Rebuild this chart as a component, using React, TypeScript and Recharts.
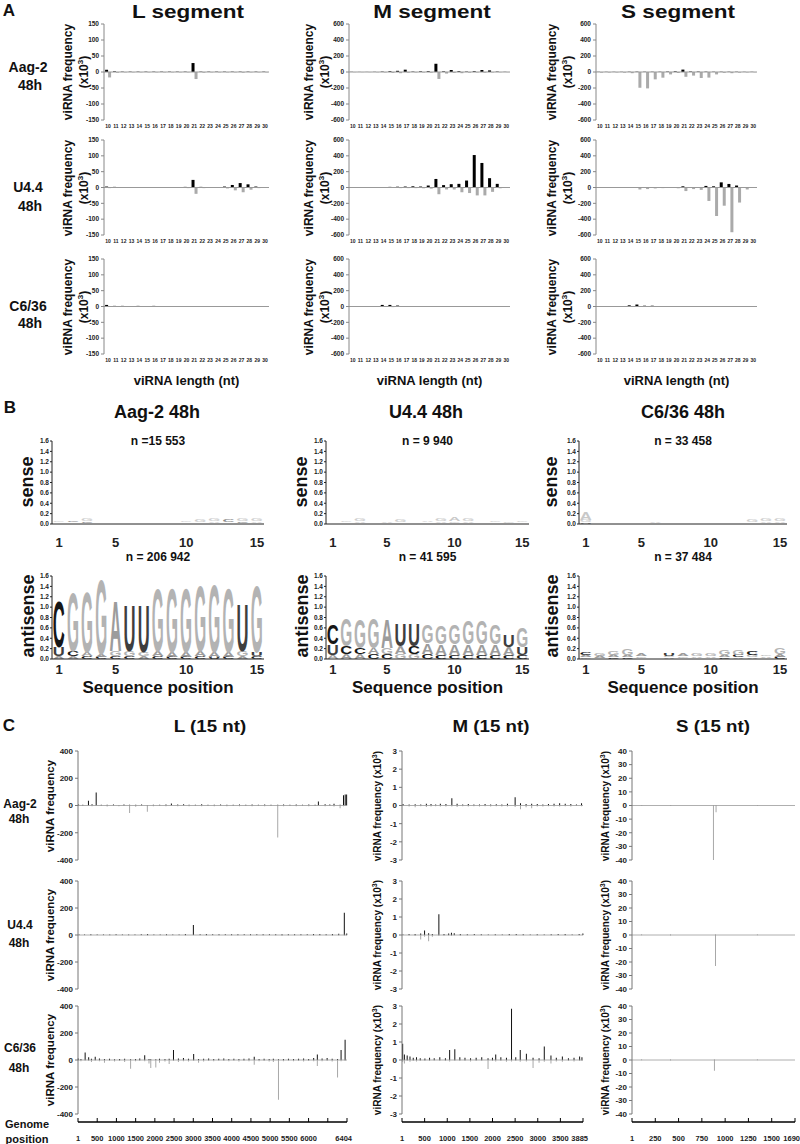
import { Bar, BarChart, Line, LineChart, ReferenceLine, XAxis, YAxis } from "recharts";

const FONT = "'Liberation Sans', Arial, Helvetica, sans-serif";

// ---------- A: viRNA length distributions (x10^3) ----------
const LENGTHS = ["10","11","12","13","14","15","16","17","18","19","20","21","22","23","24","25","26","27","28","29","30"];
const TICKS_L = [-150, -100, -50, 0, 50, 100, 150];
const TICKS_MS = [-600, -400, -200, 0, 200, 400, 600];

const L_AAG2_S = [7, 2, 1, 1, 1, 1, 1, 1, 1, 1, 1, 28, 1, 1, 1, 1, 1, 1, 1, 1, 1];
const L_AAG2_A = [-17, -2, -1, -1, -1, -1, -1, -1, -1, -1, -1, -22, -2, -1, -1, -1, -1, -2, -1, -1, -1];
const L_U44_S = [3, 2, 1, 1, 1, 1, 1, 1, 1, 1, 2, 24, 2, 1, 1, 3, 8, 14, 10, 3, 1];
const L_U44_A = [-2, -1, -1, -1, -1, -1, -1, -1, -1, -1, -2, -20, -2, -1, -1, -3, -9, -15, -7, -2, -1];
const L_C636_S = [5, 2, 2, 1, 2, 1, 2, 1, 1, 1, 1, 1, 1, 1, 1, 1, 1, 1, 1, 1, 1];
const L_C636_A = [-1, -1, -1, -1, -1, -1, -1, -1, -1, -1, -1, -1, -1, -1, -1, -1, -1, -1, -1, -1, -1];

const M_AAG2_S = [2, 1, 1, 2, 5, 10, 15, 29, 5, 8, 10, 103, 8, 25, 10, 5, 10, 25, 20, 5, 2];
const M_AAG2_A = [-2, -2, -2, -3, -5, -10, -15, -8, -5, -5, -8, -87, -20, -10, -15, -8, -5, -8, -5, -3, -2];
const M_U44_S = [2, 2, 2, 3, 5, 8, 10, 12, 15, 12, 25, 108, 30, 42, 46, 88, 410, 310, 118, 46, 5];
const M_U44_A = [-2, -2, -2, -3, -4, -6, -8, -8, -8, -10, -15, -85, -25, -25, -60, -70, -100, -100, -55, -10, -3];
const M_C636_S = [2, 2, 3, 5, 20, 20, 12, 5, 3, 2, 2, 3, 2, 2, 2, 2, 2, 2, 2, 2, 2];
const M_C636_A = [-1, -1, -2, -2, -5, -8, -5, -3, -2, -1, -1, -2, -1, -1, -1, -1, -1, -1, -1, -1, -1];

const S_AAG2_S = [2, 2, 2, 2, 3, 4, 3, 3, 3, 5, 8, 30, 6, 5, 4, 3, 3, 3, 3, 2, 2];
const S_AAG2_A = [-8, -6, -5, -8, -15, -197, -205, -92, -71, -30, -12, -60, -45, -75, -70, -30, -10, -15, -8, -5, -3];
const S_U44_S = [1, 1, 1, 1, 2, 3, 3, 3, 3, 4, 6, 15, 6, 6, 20, 15, 65, 45, 25, 6, 2];
const S_U44_A = [-2, -2, -2, -3, -5, -25, -20, -12, -8, -6, -10, -45, -20, -30, -170, -360, -230, -565, -190, -25, -5];
const S_C636_S = [2, 2, 3, 5, 15, 25, 10, 10, 5, 3, 2, 2, 2, 2, 2, 2, 2, 2, 2, 2, 2];
const S_C636_A = [-1, -1, -2, -2, -4, -6, -4, -4, -3, -2, -1, -1, -1, -1, -1, -1, -1, -1, -1, -1, -1];

// ---------- B: sequence logos ----------
const LOGO_POSITIONS = ["1","2","3","4","5","6","7","8","9","10","11","12","13","14","15"];
const LOGO_SHOWN = ["1", "5", "10", "15"];
const LOGO_TICKS = [0, 0.2, 0.4, 0.6, 0.8, 1.0, 1.2, 1.4, 1.6];

type Stack = [string, number][];

const AAG2_SENSE: Stack[] = [
  [["A", 0.01], ["C", 0.02], ["G", 0.03]], [["U", 0.01], ["A", 0.02], ["C", 0.03]], [["A", 0.02], ["C", 0.03], ["G", 0.06]],
  [["U", 0.01], ["C", 0.01], ["A", 0.02]], [["G", 0.01], ["A", 0.01]], [["A", 0.01]], [["C", 0.006]], [], [["G", 0.008]],
  [["U", 0.01], ["A", 0.02], ["G", 0.03]], [["C", 0.02], ["A", 0.02], ["G", 0.04]], [["U", 0.02], ["A", 0.03], ["G", 0.05]],
  [["U", 0.01], ["A", 0.02], ["C", 0.04]], [["A", 0.02], ["C", 0.03], ["G", 0.06]], [["U", 0.02], ["A", 0.03], ["G", 0.05]],
];
const AAG2_ANTISENSE: Stack[] = [
  [["A", 0.06], ["U", 0.17], ["C", 0.91]], [["A", 0.05], ["C", 0.1], ["G", 1.18]], [["C", 0.05], ["A", 0.08], ["G", 1.2]],
  [["C", 0.04], ["A", 0.06], ["G", 1.48]], [["C", 0.06], ["G", 0.1], ["A", 0.98]], [["C", 0.06], ["G", 0.1], ["U", 0.92]],
  [["A", 0.06], ["G", 0.08], ["U", 0.94]], [["C", 0.05], ["A", 0.1], ["G", 1.25]], [["C", 0.04], ["A", 0.1], ["G", 1.29]],
  [["C", 0.04], ["A", 0.1], ["G", 1.29]], [["C", 0.05], ["A", 0.1], ["G", 1.31]], [["U", 0.04], ["A", 0.1], ["G", 1.35]],
  [["C", 0.04], ["A", 0.1], ["G", 1.29]], [["A", 0.05], ["G", 0.1], ["U", 0.95]], [["C", 0.05], ["U", 0.08], ["G", 1.33]],
];
const U44_SENSE: Stack[] = [
  [["A", 0.01], ["G", 0.02]], [["C", 0.01], ["A", 0.02], ["G", 0.03]], [["U", 0.02], ["A", 0.03], ["G", 0.05]],
  [["C", 0.01], ["A", 0.02]], [["G", 0.02], ["A", 0.03]], [["U", 0.02], ["C", 0.02], ["G", 0.04]], [["A", 0.01], ["G", 0.02]],
  [["U", 0.02], ["C", 0.02], ["A", 0.03]], [["C", 0.02], ["A", 0.03], ["G", 0.04]], [["U", 0.02], ["G", 0.03], ["A", 0.07]],
  [["C", 0.02], ["A", 0.03], ["G", 0.04]], [["A", 0.01], ["G", 0.02]], [["U", 0.01], ["C", 0.02], ["G", 0.03]],
  [["A", 0.02], ["G", 0.03]], [["U", 0.01], ["A", 0.02], ["G", 0.03]],
];
const U44_ANTISENSE: Stack[] = [
  [["A", 0.08], ["U", 0.2], ["C", 0.38]], [["A", 0.1], ["C", 0.15], ["G", 0.55]], [["A", 0.1], ["C", 0.12], ["G", 0.58]],
  [["C", 0.1], ["A", 0.12], ["G", 0.6]], [["C", 0.1], ["G", 0.12], ["A", 0.58]], [["G", 0.1], ["A", 0.15], ["U", 0.45]],
  [["G", 0.1], ["C", 0.15], ["U", 0.45]], [["C", 0.1], ["A", 0.2], ["G", 0.35]], [["C", 0.08], ["A", 0.2], ["G", 0.37]],
  [["C", 0.08], ["A", 0.2], ["G", 0.4]], [["C", 0.08], ["A", 0.2], ["G", 0.47]], [["C", 0.08], ["A", 0.2], ["G", 0.47]],
  [["C", 0.08], ["A", 0.2], ["G", 0.4]], [["C", 0.08], ["A", 0.15], ["U", 0.22]], [["C", 0.08], ["U", 0.15], ["G", 0.4]],
];
const C636_SENSE: Stack[] = [
  [["U", 0.03], ["G", 0.05], ["A", 0.15]], [["C", 0.01], ["A", 0.02]], [["A", 0.01], ["G", 0.02]], [["U", 0.01], ["G", 0.02]],
  [["C", 0.01], ["A", 0.02]], [["G", 0.02], ["A", 0.03]], [["U", 0.01], ["A", 0.02]], [["C", 0.01], ["G", 0.02]],
  [["A", 0.01], ["G", 0.02]], [["C", 0.01], ["A", 0.02]], [["U", 0.01], ["G", 0.02]], [["A", 0.01], ["C", 0.02]],
  [["U", 0.02], ["A", 0.02], ["G", 0.04]], [["C", 0.02], ["A", 0.03], ["G", 0.04]], [["U", 0.02], ["A", 0.03], ["G", 0.05]],
];
const C636_ANTISENSE: Stack[] = [
  [["G", 0.03], ["A", 0.04], ["C", 0.06]], [["C", 0.02], ["A", 0.04], ["G", 0.06]], [["C", 0.03], ["A", 0.04], ["G", 0.07]],
  [["C", 0.03], ["A", 0.05], ["G", 0.12]], [["C", 0.02], ["G", 0.03], ["A", 0.05]], [["G", 0.01], ["A", 0.02]],
  [["A", 0.03], ["G", 0.03], ["U", 0.06]], [["C", 0.02], ["G", 0.03], ["A", 0.04]], [["C", 0.02], ["A", 0.03], ["G", 0.04]],
  [["C", 0.02], ["A", 0.03], ["G", 0.05]], [["C", 0.03], ["A", 0.05], ["G", 0.1]], [["A", 0.03], ["C", 0.05], ["G", 0.1]],
  [["A", 0.03], ["G", 0.05], ["C", 0.08]], [["C", 0.02], ["A", 0.03], ["G", 0.03]], [["C", 0.04], ["A", 0.06], ["G", 0.12]],
];

// ---------- C: 15 nt viRNA along the genome [position, sense, antisense] ----------
type Hit = [number, number, number];

const L_AAG2_HITS: Hit[] = [
  [20, 8, -3], [120, 6, -4], [255, 35, -2], [340, 10, -5], [439, 95, -3], [560, 6, -4], [700, 5, -8], [850, 7, -3],
  [980, 4, -6], [1100, 8, -4], [1234, 6, -55], [1380, 5, -10], [1520, 7, -4], [1657, 4, -45], [1800, 6, -5], [1950, 5, -4],
  [2100, 8, -6], [2229, 15, -4], [2380, 7, -5], [2520, 10, -3], [2650, 6, -6], [2800, 5, -4], [2950, 9, -5], [3100, 6, -3],
  [3250, 5, -6], [3400, 8, -4], [3550, 6, -5], [3700, 5, -3], [3850, 7, -6], [4000, 6, -4], [4150, 8, -5], [4300, 5, -3],
  [4450, 7, -6], [4600, 6, -4], [4760, 5, -235], [4900, 7, -5], [5050, 6, -4], [5200, 8, -6], [5350, 5, -3], [5500, 7, -5],
  [5650, 6, -4], [5728, 30, -3], [5888, 10, -6], [6000, 8, -4], [6100, 12, -8], [6245, 6, -20], [6326, 75, -5],
  [6366, 80, -3], [6400, 80, -4],
];
const L_U44_HITS: Hit[] = [
  [20, 4, -2], [150, 3, -2], [300, 5, -3], [450, 3, -2], [600, 4, -2], [750, 3, -3], [900, 5, -2], [1050, 3, -2],
  [1200, 4, -3], [1350, 3, -2], [1500, 5, -2], [1650, 8, -3], [1800, 4, -2], [1950, 3, -2], [2100, 5, -3], [2250, 3, -2],
  [2400, 4, -2], [2550, 8, -3], [2740, 75, -2], [2900, 5, -2], [3050, 8, -3], [3200, 5, -2], [3350, 6, -3], [3500, 5, -2],
  [3650, 6, -4], [3800, 5, -3], [3950, 6, -2], [4100, 5, -3], [4250, 6, -2], [4400, 5, -3], [4550, 6, -2], [4700, 5, -3],
  [4850, 6, -8], [5000, 5, -3], [5150, 6, -4], [5300, 5, -3], [5450, 6, -2], [5600, 7, -3], [5750, 8, -4], [5900, 6, -3],
  [6050, 7, -5], [6200, 10, -3], [6333, 165, -5], [6390, 12, -3],
];
const L_C636_HITS: Hit[] = [
  [15, 12, -3], [80, 8, -10], [180, 55, -5], [264, 20, -8], [330, 10, -15], [420, 25, -6], [520, 12, -10], [640, 8, -20],
  [760, 10, -5], [880, 6, -12], [1000, 8, -8], [1120, 10, -15], [1262, 5, -65], [1380, 8, -10], [1480, 12, -8],
  [1598, 35, -10], [1700, 8, -25], [1742, 6, -60], [1862, 5, -55], [1950, 10, -20], [2080, 8, -12], [2180, 10, -30],
  [2283, 75, -8], [2400, 12, -15], [2520, 15, -10], [2640, 10, -12], [2763, 45, -8], [2880, 8, -20], [3000, 10, -12],
  [3120, 12, -8], [3240, 8, -10], [3360, 10, -6], [3480, 12, -8], [3600, 8, -10], [3720, 10, -6], [3840, 8, -12],
  [3960, 10, -8], [4080, 12, -10], [4205, 25, -35], [4320, 8, -10], [4440, 10, -8], [4560, 8, -12], [4660, 10, -15],
  [4782, 6, -295], [4900, 8, -10], [5020, 10, -6], [5140, 8, -10], [5260, 10, -8], [5380, 12, -12], [5500, 8, -8],
  [5620, 15, -10], [5707, 40, -45], [5820, 12, -10], [5940, 15, -8], [6060, 10, -12], [6188, 8, -130], [6272, 75, -10],
  [6368, 150, -8],
];

const M_AAG2_HITS: Hit[] = [
  [20, 0.08, -0.03], [150, 0.05, -0.05], [280, 0.07, -0.1], [400, 0.06, -0.04], [520, 0.1, -0.08], [620, 0.08, -0.05],
  [720, 0.06, -0.04], [820, 0.1, -0.06], [940, 0.08, -0.05], [1067, 0.4, -0.05], [1180, 0.1, -0.08], [1300, 0.06, -0.04],
  [1420, 0.08, -0.05], [1540, 0.05, -0.04], [1660, 0.06, -0.06], [1780, 0.08, -0.04], [1900, 0.06, -0.05],
  [2020, 0.07, -0.04], [2140, 0.05, -0.06], [2260, 0.1, -0.05], [2425, 0.45, -0.08], [2540, 0.12, -0.2],
  [2660, 0.08, -0.1], [2780, 0.1, -0.15], [2900, 0.08, -0.06], [3020, 0.06, -0.05], [3140, 0.08, -0.04],
  [3260, 0.1, -0.06], [3380, 0.12, -0.05], [3500, 0.1, -0.04], [3620, 0.08, -0.05], [3740, 0.06, -0.03], [3850, 0.12, -0.04],
];
const M_U44_HITS: Hit[] = [
  [20, 0.03, -0.02], [150, 0.05, -0.03], [280, 0.05, -0.05], [400, 0.08, -0.25], [483, 0.25, -0.1], [570, 0.1, -0.35],
  [650, 0.06, -0.1], [790, 1.15, -0.05], [900, 0.05, -0.04], [1000, 0.08, -0.03], [1060, 0.12, -0.05], [1120, 0.1, -0.03],
  [1250, 0.05, -0.04], [1400, 0.04, -0.03], [1550, 0.05, -0.02], [1700, 0.04, -0.03], [1850, 0.03, -0.02],
  [2000, 0.04, -0.03], [2150, 0.03, -0.02], [2300, 0.05, -0.03], [2450, 0.06, -0.02], [2600, 0.04, -0.03],
  [2750, 0.03, -0.02], [2900, 0.04, -0.03], [3050, 0.03, -0.02], [3200, 0.04, -0.03], [3350, 0.05, -0.02],
  [3500, 0.06, -0.03], [3650, 0.03, -0.02], [3800, 0.05, -0.02], [3880, 0.08, -0.02],
];
const M_C636_HITS: Hit[] = [
  [23, 0.9, -0.1], [60, 0.3, -0.2], [120, 0.25, -0.05], [180, 0.2, -0.1], [250, 0.12, -0.05], [320, 0.15, -0.08],
  [400, 0.1, -0.05], [500, 0.08, -0.06], [600, 0.12, -0.05], [700, 0.1, -0.04], [820, 0.15, -0.06], [940, 0.1, -0.05],
  [1031, 0.55, -0.08], [1142, 0.6, -0.05], [1250, 0.15, -0.06], [1360, 0.12, -0.05], [1480, 0.1, -0.08],
  [1600, 0.12, -0.05], [1720, 0.15, -0.06], [1855, 0.1, -0.5], [1950, 0.12, -0.06], [2020, 0.3, -0.08],
  [2130, 0.15, -0.06], [2250, 0.12, -0.1], [2359, 2.85, -0.08], [2450, 0.15, -0.06], [2546, 0.55, -0.1],
  [2678, 0.35, -0.08], [2821, 0.12, -0.45], [2950, 0.1, -0.15], [3062, 0.75, -0.1], [3205, 0.25, -0.2],
  [3320, 0.12, -0.08], [3450, 0.2, -0.1], [3580, 0.1, -0.06], [3700, 0.12, -0.08], [3820, 0.2, -0.05], [3870, 0.15, -0.05],
];

const S_AAG2_HITS: Hit[] = [[100, 0.2, -0.2], [400, 0.2, -0.3], [843, 0.1, -40], [870, 0.1, -5], [1300, 0.2, -0.2]];
const S_U44_HITS: Hit[] = [[100, 0.2, -0.2], [400, 0.2, -0.3], [866, 0.1, -23], [1300, 0.2, -0.2]];
const S_C636_HITS: Hit[] = [[100, 0.2, -0.2], [400, 0.2, -0.3], [855, 0.1, -8], [1300, 0.2, -0.2]];

const TICKS_CL = [-400, -200, 0, 200, 400];
const TICKS_CM = [-3, -2, -1, 0, 1, 2, 3];
const TICKS_CS = [-40, -30, -20, -10, 0, 10, 20, 30, 40];

const GENOME_L = ["1","500","1000","1500","2000","2500","3000","3500","4000","4500","5000","5500","6000","","6404"];
const GENOME_M = ["1","500","1000","1500","2000","2500","3000","3500","3885"];
const GENOME_S = ["1","250","500","750","1000","1250","1500","1690"];

// ---------- helpers ----------
const boldTick = (size: number) => ({ fontSize: size, fontWeight: "bold", fill: "#222", fontFamily: FONT });

function Label({ x, y, size, children, rotate = false, sx = 1 }: any) {
  const t = `translate(-50%, -50%)${rotate ? " rotate(-90deg)" : ""}${sx !== 1 ? ` scaleX(${sx})` : ""}`;
  return (
    <div style={{
      position: "absolute", left: x, top: y, transform: t, fontSize: size, fontWeight: "bold",
      fontFamily: FONT, lineHeight: 1.15, whiteSpace: "nowrap", textAlign: "center", color: "#111",
    }}>
      {children}
    </div>
  );
}

function LengthPanel({ x, y, w, h, sense, anti, ticks }: any) {
  const W = 24, TOP = 6, RIGHT = 4, XH = 12;
  const data = LENGTHS.map((len, i) => ({ len, s: sense[i], a: anti[i] }));
  return (
    <div style={{ position: "absolute", left: x - W, top: y - TOP }}>
      <BarChart width={W + w + RIGHT} height={TOP + h + XH} data={data}
        margin={{ top: TOP, right: RIGHT, left: 0, bottom: 0 }} barGap={0} barCategoryGap="14%">
        <XAxis dataKey="len" interval={0} axisLine={false} tickLine={false} tickSize={0} tickMargin={4} height={XH}
          tick={boldTick(5)} />
        <YAxis domain={[ticks[0], ticks[ticks.length - 1]]} ticks={ticks} interval={0} width={W}
          axisLine={{ stroke: "#888" }} tickLine={{ stroke: "#888" }} tickSize={3} tickMargin={2} tick={boldTick(6.5)} />
        <ReferenceLine y={0} stroke="#999" />
        <Bar dataKey="s" fill="#000" isAnimationActive={false} />
        <Bar dataKey="a" fill="#aaa" isAnimationActive={false} />
      </BarChart>
    </div>
  );
}

const LETTER_FILL: Record<string, string> = { A: "#9c9c9c", C: "#161616", G: "#b3b3b3", U: "#3e3e3e" };
const FAINT_FILL: Record<string, string> = { A: "#c8c8c8", C: "#8a8a8a", G: "#d0d0d0", U: "#999" };

const makeLetter = (key: string, faint: boolean) => (props: any) => {
  const { x, y, width, height, payload } = props;
  const letter = payload?.[key];
  if (!letter || !(height > 1.2)) return <g />;
  const sx = width / 74;
  const sy = height / 73;
  return (
    <g transform={`translate(${x},${y + height}) scale(${sx},${sy})`}>
      <text x={0} y={0} fontSize={100} fontWeight="bold" fontFamily={FONT}
        fill={(faint ? FAINT_FILL : LETTER_FILL)[letter]} textLength={74} lengthAdjust="spacingAndGlyphs">
        {letter}
      </text>
    </g>
  );
};

function LogoPanel({ x, y, w, h, stacks, gap, faint = false }: any) {
  const W = 17, TOP = 26, RIGHT = 2, XH = 26;
  const data = LOGO_POSITIONS.map((pos, i) => {
    const st: Stack = stacks[i];
    const padded = [...Array(3 - st.length).fill(null), ...st];
    const row: any = { pos };
    padded.forEach((p: any, k: number) => {
      row[`l${k + 1}`] = p ? p[0] : "";
      row[`h${k + 1}`] = p ? p[1] : 0;
    });
    return row;
  });
  return (
    <div style={{ position: "absolute", left: x - W, top: y - TOP }}>
      <BarChart width={W + w + RIGHT} height={TOP + h + XH} data={data}
        margin={{ top: TOP, right: RIGHT, left: 0, bottom: 0 }} barCategoryGap="6%">
        <XAxis dataKey="pos" interval={0} tickLine={false} tickSize={0} tickMargin={gap} height={XH}
          axisLine={{ stroke: "#222" }} tickFormatter={(v) => (LOGO_SHOWN.includes(v) ? v : "")} tick={boldTick(13)} />
        <YAxis domain={[0, 1.6]} ticks={LOGO_TICKS} interval={0} width={W} tickFormatter={(v) => Number(v).toFixed(1)}
          axisLine={{ stroke: "#222" }} tickLine={{ stroke: "#222" }} tickSize={2} tickMargin={1} tick={boldTick(6.5)} />
        <Bar dataKey="h1" stackId="l" shape={makeLetter("l1", faint)} isAnimationActive={false} />
        <Bar dataKey="h2" stackId="l" shape={makeLetter("l2", faint)} isAnimationActive={false} />
        <Bar dataKey="h3" stackId="l" shape={makeLetter("l3", faint)} isAnimationActive={false} />
      </BarChart>
    </div>
  );
}

function GenomePanel({ x, y, w, h, hits, length, ticks }: any) {
  const W = 26, PAD = 6;
  const data = hits.map(([pos, s, a]: Hit) => ({ pos, s, a }));
  return (
    <div style={{ position: "absolute", left: x - W, top: y - PAD }}>
      <BarChart width={W + w + 2} height={h + 2 * PAD} data={data} stackOffset="sign"
        margin={{ top: PAD, right: 2, left: 0, bottom: PAD }}>
        <XAxis type="number" dataKey="pos" domain={[1, length]} hide />
        <YAxis domain={[ticks[0], ticks[ticks.length - 1]]} ticks={ticks} interval={0} width={W}
          axisLine={{ stroke: "#777" }} tickLine={{ stroke: "#777" }} tickSize={3} tickMargin={2} tick={boldTick(8)} />
        <ReferenceLine y={0} stroke="#9a9a9a" strokeWidth={0.8} />
        <Bar dataKey="s" stackId="g" fill="#111" barSize={1} isAnimationActive={false} />
        <Bar dataKey="a" stackId="g" fill="#a8a8a8" barSize={1} isAnimationActive={false} />
      </BarChart>
    </div>
  );
}

// last label of a genome axis is pulled inside so it stays on the page
function GenomeTick({ x, y, payload, index, count }: any) {
  const last = index === count - 1;
  return (
    <text x={last ? x + 5 : x} y={y} dy="0.71em" textAnchor={last ? "end" : "middle"}
      fontSize={7.5} fontWeight="bold" fill="#222" fontFamily={FONT}>
      {payload.value}
    </text>
  );
}

function GenomeAxis({ x, w, labels }: any) {
  const PAD = 8;
  const data = labels.map((t: string) => ({ t, v: 0 }));
  return (
    <div style={{ position: "absolute", left: x - PAD, top: 1118 }}>
      <LineChart width={w + 2 * PAD} height={30} data={data} margin={{ top: 2, right: PAD, left: PAD, bottom: 0 }}>
        <XAxis dataKey="t" interval={0} height={26} axisLine={{ stroke: "#000", strokeWidth: 1.5 }}
          tickLine={{ stroke: "#000" }} tickSize={-5} tickMargin={19}
          tick={(p: any) => <GenomeTick {...p} count={labels.length} />} />
        <YAxis hide domain={[0, 1]} />
        <Line dataKey="v" stroke="none" dot={false} isAnimationActive={false} />
      </LineChart>
    </div>
  );
}

const COLS_A = [
  { x: 104, w: 165, ticks: TICKS_L, title: "L segment", tx: 188, lx: 77 },
  { x: 349, w: 161, ticks: TICKS_MS, title: "M segment", tx: 432, lx: 318 },
  { x: 596, w: 161, ticks: TICKS_MS, title: "S segment", tx: 678, lx: 561 },
];
const ROWS_A = [{ y: 24, h: 96 }, { y: 140, h: 95 }, { y: 259, h: 95 }];
const SERIES_A = [
  [[L_AAG2_S, L_AAG2_A], [M_AAG2_S, M_AAG2_A], [S_AAG2_S, S_AAG2_A]],
  [[L_U44_S, L_U44_A], [M_U44_S, M_U44_A], [S_U44_S, S_U44_A]],
  [[L_C636_S, L_C636_A], [M_C636_S, M_C636_A], [S_C636_S, S_C636_A]],
];

const COLS_B = [
  { x: 52, w: 212, title: "Aag-2 48h", tx: 157, lx: 27, ns: "n =15 553", na: "n = 206 942", s: AAG2_SENSE, a: AAG2_ANTISENSE },
  { x: 326, w: 203, title: "U4.4 48h", tx: 426, lx: 301, ns: "n = 9 940", na: "n = 41 595", s: U44_SENSE, a: U44_ANTISENSE },
  { x: 579, w: 208, title: "C6/36 48h", tx: 683, lx: 551, ns: "n = 33 458", na: "n = 37 484", s: C636_SENSE, a: C636_ANTISENSE },
];

const COLS_C = [
  { x: 78, w: 269, length: 6404, ticks: TICKS_CL, title: "L (15 nt)", tx: 210, lx: 51, lab: "viRNA frequency", axis: GENOME_L, hits: [L_AAG2_HITS, L_U44_HITS, L_C636_HITS] },
  { x: 402, w: 181, length: 3885, ticks: TICKS_CM, title: "M (15 nt)", tx: 491, lx: 377, lab: "x", axis: GENOME_M, hits: [M_AAG2_HITS, M_U44_HITS, M_C636_HITS] },
  { x: 632, w: 163, length: 1690, ticks: TICKS_CS, title: "S (15 nt)", tx: 713, lx: 605, lab: "x", axis: GENOME_S, hits: [S_AAG2_HITS, S_U44_HITS, S_C636_HITS] },
];
const ROWS_C = [{ y: 751, h: 109 }, { y: 881, h: 108 }, { y: 1006, h: 108 }];

const ROW_NAMES = ["Aag-2", "U4.4", "C6/36"];

export default function App() {
  return (
    <div style={{ position: "absolute", left: 0, top: 0, width: 800, height: 1144, background: "#fff", fontFamily: FONT, overflow: "hidden" }}>
      {/* ---- A ---- */}
      <Label x={9} y={11} size={17}>A</Label>
      {COLS_A.map((c) => <Label key={c.title} x={c.tx} y={12} size={18} sx={1.25}>{c.title}</Label>)}
      {[[67, 85], [187, 206], [306, 323]].map(([y1, y2], r) => (
        <div key={r}>
          <Label x={28} y={y1} size={14}>{ROW_NAMES[r]}</Label>
          <Label x={30} y={y2} size={14}>48h</Label>
        </div>
      ))}
      {ROWS_A.map((row, r) =>
        COLS_A.map((c, k) => (
          <div key={`a${r}${k}`}>
            <Label x={c.lx} y={row.y + row.h / 2} size={12} rotate>
              viRNA frequency<br />(x10<sup style={{ fontSize: 8 }}>3</sup>)
            </Label>
            <LengthPanel x={c.x} y={row.y} w={c.w} h={row.h} ticks={c.ticks} sense={SERIES_A[r][k][0]} anti={SERIES_A[r][k][1]} />
          </div>
        ))
      )}
      {COLS_A.map((c) => <Label key={`xl${c.title}`} x={c.x + c.w / 2} y={381} size={13}>viRNA length (nt)</Label>)}

      {/* ---- B ---- */}
      <Label x={10} y={408} size={17}>B</Label>
      {COLS_B.map((c) => (
        <div key={c.title}>
          <Label x={c.tx} y={412} size={18}>{c.title}</Label>
          <LogoPanel x={c.x} y={441} w={c.w} h={83} stacks={c.s} gap={14} faint />
          <LogoPanel x={c.x} y={576} w={c.w} h={83} stacks={c.a} gap={6} />
          <Label x={c.x + c.w / 2} y={442} size={12}>{c.ns}</Label>
          <Label x={c.x + c.w / 2} y={558} size={12}>{c.na}</Label>
          <Label x={c.lx} y={482} size={18} rotate>sense</Label>
          <Label x={c.lx + 1} y={616} size={18} rotate>antisense</Label>
          <Label x={c.x + c.w / 2} y={688} size={17}>Sequence position</Label>
        </div>
      ))}

      {/* ---- C ---- */}
      <Label x={9} y={726} size={17}>C</Label>
      {COLS_C.map((c) => <Label key={c.title} x={c.tx} y={727} size={17} sx={1.1}>{c.title}</Label>)}
      {[[805, 820], [926, 944], [1049, 1069]].map(([y1, y2], r) => (
        <div key={`cr${r}`}>
          <Label x={20} y={y1} size={12}>{ROW_NAMES[r]}</Label>
          <Label x={19} y={y2} size={12}>48h</Label>
        </div>
      ))}
      {ROWS_C.map((row, r) =>
        COLS_C.map((c, k) => (
          <div key={`c${r}${k}`}>
            {c.lab === "x" ? (
              <Label x={c.lx} y={row.y + row.h / 2} size={10} rotate>
                viRNA frequency (x10<sup style={{ fontSize: 7 }}>3</sup>)
              </Label>
            ) : (
              <Label x={c.lx} y={row.y + row.h / 2} size={11.5} rotate>{c.lab}</Label>
            )}
            <GenomePanel x={c.x} y={row.y} w={c.w} h={row.h} hits={c.hits[r]} length={c.length} ticks={c.ticks} />
          </div>
        ))
      )}
      {COLS_C.map((c) => <GenomeAxis key={`ga${c.title}`} x={c.x} w={c.w} labels={c.axis} />)}
      <Label x={27} y={1124} size={11}>Genome</Label>
      <Label x={27} y={1139} size={11}>position</Label>
    </div>
  );
}
